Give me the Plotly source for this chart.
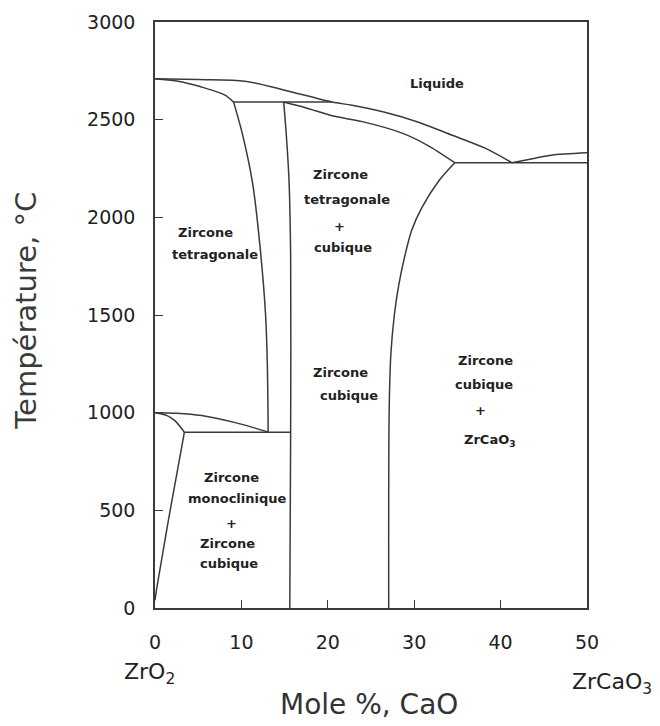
import plotly.graph_objects as go

# ---------------- data (mol % CaO, temperature in °C) ----------------
liq_upper_x = [0, 5, 10.4, 15.0, 20.5, 22.8, 26.6, 30.5, 34.4, 38.2, 41.3]
liq_upper_t = [2710, 2705, 2697, 2651, 2590, 2574, 2538, 2487, 2420, 2354, 2280]

liq_right_x = [41.3, 44.0, 45.9, 50]
liq_right_t = [2280, 2303, 2318, 2330]

tet_solidus_x = [0, 2.5, 5.4, 8.1, 9.1]
tet_solidus_t = [2710, 2698, 2667, 2626, 2590]

peritectic_x = [9.1, 20.5]
peritectic_t = [2590, 2590]

tet_solvus_x = [9.1, 10.1, 11.3, 12.2, 12.8, 13.0, 13.1]
tet_solvus_t = [2590, 2430, 2174, 1830, 1500, 1251, 900]

cub_left_x = [14.9, 15.2, 15.5, 15.7, 15.7, 15.6]
cub_left_t = [2590, 2420, 2200, 1800, 900, 0]

cub_solidus_x = [14.9, 17.5, 20.8, 24.0, 28.6, 31.5, 34.7]
cub_solidus_t = [2590, 2560, 2517, 2490, 2431, 2370, 2280]

eutectic_x = [34.7, 50]
eutectic_t = [2280, 2280]

cub_solvus_x = [34.7, 32.9, 30.9, 29.7, 28.9, 28.2, 27.7, 27.3, 27.1, 27.05]
cub_solvus_t = [2280, 2190, 2051, 1933, 1800, 1650, 1500, 1300, 1000, 0]

tet_lower_x = [0, 2.5, 5.4, 9.3, 11.5, 13.1]
tet_lower_t = [1000, 997, 985, 949, 922, 900]

mono_upper_x = [0, 1.4, 2.3, 3.4]
mono_upper_t = [1000, 985, 959, 900]

eutectoid_x = [3.4, 15.7]
eutectoid_t = [900, 900]

mono_solvus_x = [3.4, 2.5, 1.6, 0.7, 0.2, 0]
mono_solvus_t = [900, 680, 462, 230, 100, 40]

# region labels (one entry per text line)
label_text = ["Liquide",
              "Zircone", "tetragonale", "+", "cubique",
              "Zircone", "tetragonale",
              "Zircone", "cubique",
              "Zircone", "cubique", "+", "ZrCaO<sub>3</sub>",
              "Zircone", "monoclinique", "+", "Zircone", "cubique"]
label_x = [32.6,
           21.5, 22.2, 21.3, 21.8,
           5.8, 6.9,
           21.5, 22.5,
           38.3, 38.1, 37.7, 38.8,
           8.9, 9.5, 8.9, 8.4, 8.6]
label_t = [2687,
           2220, 2092, 1954, 1846,
           1923, 1810,
           1205, 1087,
           1267, 1144, 1010, 860,
           667, 559, 431, 328, 226]

x_ticks = [0, 10, 20, 30, 40, 50]
y_ticks = [0, 500, 1000, 1500, 2000, 2500, 3000]

# ---------------- figure ----------------
LINE = "#3a3a3a"
curves = [
    (liq_upper_x, liq_upper_t), (liq_right_x, liq_right_t),
    (tet_solidus_x, tet_solidus_t), (peritectic_x, peritectic_t),
    (tet_solvus_x, tet_solvus_t), (cub_left_x, cub_left_t),
    (cub_solidus_x, cub_solidus_t), (eutectic_x, eutectic_t),
    (cub_solvus_x, cub_solvus_t), (tet_lower_x, tet_lower_t),
    (mono_upper_x, mono_upper_t), (eutectoid_x, eutectoid_t),
    (mono_solvus_x, mono_solvus_t),
]

fig = go.Figure()
for cx, ct in curves:
    fig.add_trace(go.Scatter(x=cx, y=ct, mode="lines",
                             line=dict(color=LINE, width=1.5, shape="spline", smoothing=0.8),
                             hoverinfo="skip", showlegend=False))

for txt, lx, lt in zip(label_text, label_x, label_t):
    fig.add_annotation(x=lx, y=lt, text=txt, showarrow=False,
                       font=dict(family="DejaVu Sans", size=13, color="#222222", weight="bold"),
                       xanchor="center", yanchor="middle")

# axis titles and end-member labels
fig.add_annotation(xref="paper", yref="paper", x=-0.299, y=0.507,
                   text="Température, °C", textangle=-90, showarrow=False,
                   font=dict(family="DejaVu Sans", size=29, color="#3a3a3a"),
                   xanchor="center", yanchor="middle")
fig.add_annotation(xref="paper", yref="paper", x=0.4965, y=-0.1655,
                   text="Mole %, CaO", showarrow=False,
                   font=dict(family="DejaVu Sans", size=28, color="#333333"),
                   xanchor="center", yanchor="middle")
fig.add_annotation(xref="paper", yref="paper", x=-0.012, y=-0.112,
                   text="ZrO<sub>2</sub>", showarrow=False,
                   font=dict(family="DejaVu Sans", size=22, color="#222222"),
                   xanchor="center", yanchor="middle")
fig.add_annotation(xref="paper", yref="paper", x=1.058, y=-0.128,
                   text="ZrCaO<sub>3</sub>", showarrow=False,
                   font=dict(family="DejaVu Sans", size=22, color="#222222"),
                   xanchor="center", yanchor="middle")

axis_common = dict(showline=True, linecolor=LINE, linewidth=1.5, mirror=True,
                   ticks="inside", ticklen=8, tickwidth=1.2, tickcolor=LINE,
                   showgrid=False, zeroline=False,
                   tickfont=dict(family="DejaVu Sans", size=19, color="#222222"))

fig.update_xaxes(range=[0, 50], tickvals=x_ticks, ticklabelstandoff=16, **axis_common)
fig.update_yaxes(range=[0, 3000], tickvals=y_ticks, ticklabelstandoff=14, **axis_common)

fig.update_layout(width=660, height=726,
                  margin=dict(l=155, r=73, t=22, b=118),
                  plot_bgcolor="white", paper_bgcolor="white",
                  showlegend=False)

fig.write_html("out.html")
